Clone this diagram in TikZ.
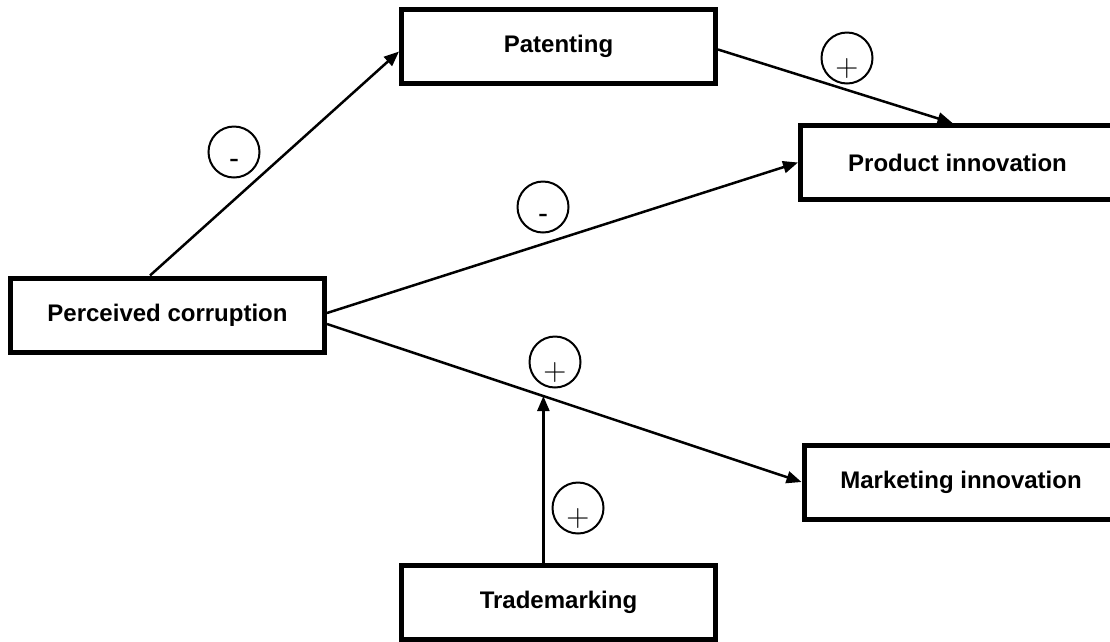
\documentclass[tikz,border=0pt]{standalone}
\usepackage{fontspec}
\newfontfamily\boxfont{Liberation Sans}
\usepackage{tikz}
\usetikzlibrary{arrows.meta,calc}

\begin{document}
\begin{tikzpicture}[x=1pt, y=1pt, >={Triangle[length=15pt,width=12pt]},
	block/.style={draw, rectangle, line width=5pt, minimum width=314pt, minimum height=74pt, font=\boxfont\bfseries\fontsize{24}{28}\selectfont},
	sign/.style={draw, circle, line width=2pt, minimum size=51pt, inner sep=0pt, text height=36pt, text depth=0pt, font=\fontsize{32}{34}\selectfont},
	minus/.style={sign, text height=32pt, font=\boxfont\fontsize{30}{32}\selectfont},
	link/.style={->, line width=2.5pt}]
	\useasboundingbox (0,0) rectangle (1110,-641);
	\node[block] (corruption) at (167.5,-315) {Perceived corruption};
	\node[block] (patenting) at (558.5,-46.5) {Patenting};
	\node[block, below of=patenting, node distance=556pt] (trademarking) {Trademarking};
	\node[block] (product) at (957.5,-162.5) {Product innovation};
	\node[block] (marketing) at (961,-482) {Marketing innovation};

	\node[minus] (signa) at (234,-152) {-};
	\node[minus] (signb) at (543,-207) {-};
	\node[sign] (signc) at (847,-58) {+};
	\node[sign] (signd) at (555,-362) {+};
	\node[sign] (signe) at (578,-508) {+};

	\draw[link] ([xshift=-17.5pt]corruption.north) -- ([yshift=-5pt]patenting.west);
	\draw[link] ([yshift=-3pt]patenting.east) -- ([xshift=-5pt]product.north);
	\draw[link] ([yshift=2pt]corruption.east) -- (product.west);
	\draw[link] ([yshift=-9pt]corruption.east) -- coordinate[pos=0.456] (moderation) (marketing.west);
	\draw[link] (trademarking.north -| moderation) -- (moderation);
\end{tikzpicture}
\end{document}
